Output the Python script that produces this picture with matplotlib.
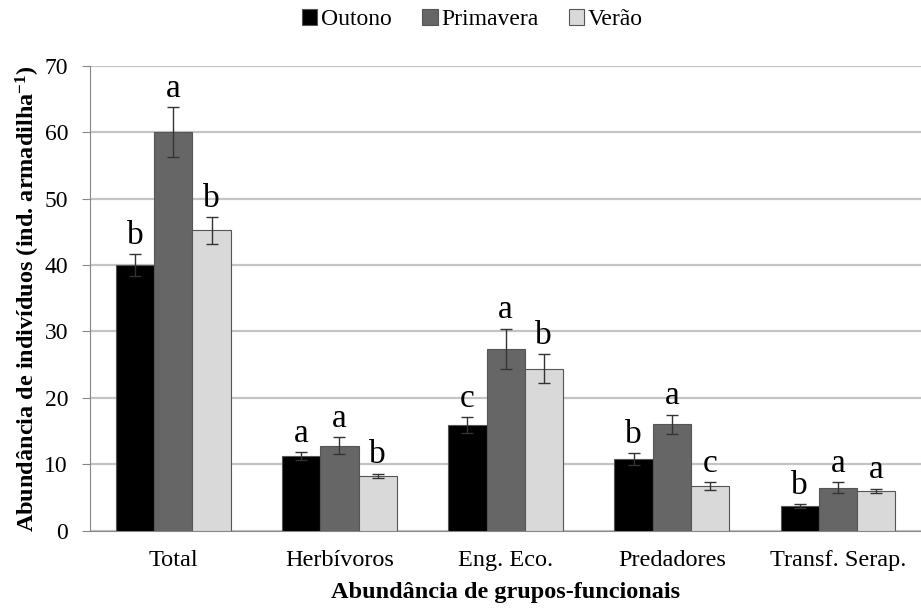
import numpy as np
import matplotlib
matplotlib.use("Agg")
from matplotlib import pyplot as plt

# data
grupos = ["Total", "Herbívoros", "Eng. Eco.", "Predadores", "Transf. Serap."]
estacoes = ["Outono", "Primavera", "Verão"]
outono = [40.0, 11.2, 15.9, 10.8, 3.7]
primavera = [60.0, 12.8, 27.4, 16.0, 6.5]
verao = [45.2, 8.3, 24.4, 6.7, 6.0]
err_outono = [1.6, 0.6, 1.2, 0.85, 0.3]
err_primavera = [3.8, 1.3, 3.0, 1.5, 0.8]
err_verao = [2.0, 0.3, 2.2, 0.6, 0.35]
let_outono = ["b", "a", "c", "b", "b"]
let_primavera = ["a", "a", "a", "a", "a"]
let_verao = ["b", "b", "b", "c", "a"]

plt.rcParams['font.family'] = ['Liberation Serif', 'DejaVu Serif']
plt.rcParams['mathtext.default'] = 'regular'

fig = plt.figure(figsize=(9.21, 6.08), dpi=100)
ax = fig.add_axes([0.098, 0.127, 0.902, 0.765])

x = np.arange(len(grupos))
w = 0.23
cores = ["#000000", "#666666", "#d9d9d9"]
series = [outono, primavera, verao]
erros = [err_outono, err_primavera, err_verao]
letras = [let_outono, let_primavera, let_verao]

for k in range(3):
    pos = x + (k - 1) * w
    ax.bar(pos, series[k], w, color=cores[k], edgecolor="#555555", linewidth=0.8,
           label=estacoes[k], zorder=3)
    ax.errorbar(pos, series[k], yerr=erros[k], fmt="none", ecolor="#333333",
                elinewidth=1, capsize=4, capthick=1, zorder=4)
    for i in range(len(grupos)):
        ax.text(pos[i], series[k][i] + erros[k][i] + 0.5, letras[k][i],
                ha="center", va="bottom", fontsize=24)

ax.set_ylim(0, 70)
ax.set_xlim(-0.5, len(grupos) - 0.5)
ax.set_yticks(range(0, 71, 10))
ax.yaxis.grid(True, color="#c4c4c4", linewidth=1.6, zorder=0)
ax.set_axisbelow(True)
ax.set_xticks(x)
ax.set_xticklabels(grupos, fontsize=17.5)
ax.tick_params(axis="y", labelsize=17, direction="out", length=6, pad=10,
               color="#888888")
ax.tick_params(axis="x", length=0, pad=14)
for s in ["top", "right"]:
    ax.spines[s].set_visible(False)
ax.spines["left"].set_color("#888888")
ax.spines["bottom"].set_color("#888888")

ax.set_ylabel("Abundância de indivíduos (ind. armadilha$^{-1}$)",
              fontsize=17.5, fontweight="bold", labelpad=2)
ax.set_xlabel("Abundância de grupos-funcionais", fontsize=17.5, fontweight="bold",
              labelpad=8)

ax.legend(loc="upper center", bbox_to_anchor=(0.46, 1.168), ncol=3, frameon=False,
          fontsize=17, handlelength=0.65, handleheight=0.65, handletextpad=0.15,
          columnspacing=1.3)

fig.savefig("out.png", dpi=100)
